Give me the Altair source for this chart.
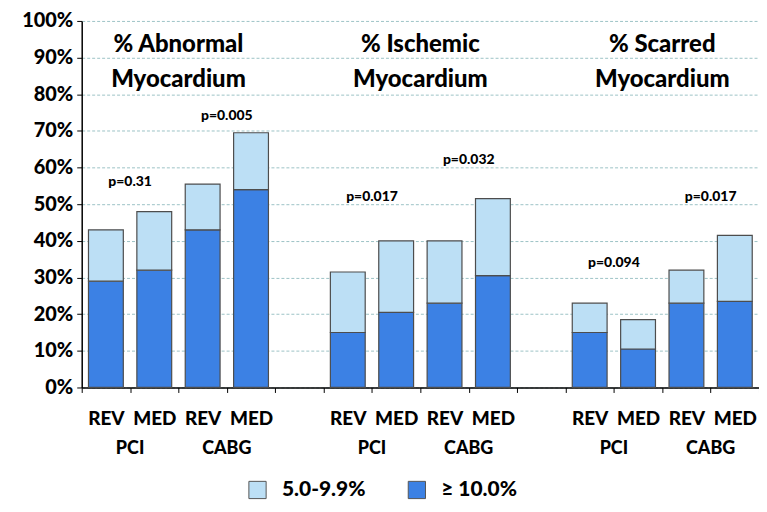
import altair as alt
import pandas as pd

# ---- data ----
groups = ["% Abnormal\nMyocardium", "% Ischemic\nMyocardium", "% Scarred\nMyocardium"]
arms = ["REV", "MED", "REV", "MED"]
procedures = ["PCI", "CABG"]
ge10 = [[29, 32, 43, 54], [15, 20.5, 23, 30.5], [15, 10.5, 23, 23.5]]
total = [[43, 48, 55.5, 69.5], [31.5, 40, 40, 51.5], [23, 18.5, 32, 41.5]]
p_labels = [["p=0.31", "p=0.005"], ["p=0.017", "p=0.032"], ["p=0.094", "p=0.017"]]
p_heights = [[56, 74], [52, 62], [34, 52]]
y_ticks = [0, 10, 20, 30, 40, 50, 60, 70, 80, 90, 100]
seg_names = ["5.0-9.9%", "≥ 10.0%"]
seg_colors = ["#bcdff5", "#3c81e4"]

FONT = "Lato"
W = 900

# ---- build tables ----
slots = []
bar_rows, p_rows, proc_rows, title_rows = [], [], [], []
for g in range(3):
    gslots = [f"{arms[i]}-{g}-{i}" for i in range(4)]
    slots += gslots
    if g < 2:
        slots.append(f"gap-{g}")
    for i in range(4):
        bar_rows.append({"slot": gslots[i], "segment": seg_names[1], "value": ge10[g][i], "ord": 0})
        bar_rows.append({"slot": gslots[i], "segment": seg_names[0],
                         "value": total[g][i] - ge10[g][i], "ord": 1})
    for k in range(2):
        p_rows.append({"slot": gslots[2 * k], "text": p_labels[g][k], "value": p_heights[g][k]})
        proc_rows.append({"slot": gslots[2 * k], "text": procedures[k]})
    title_rows.append({"slot": gslots[1], "text": groups[g]})

bars_df = pd.DataFrame(bar_rows)
p_df = pd.DataFrame(p_rows)
proc_df = pd.DataFrame(proc_rows)
title_df = pd.DataFrame(title_rows)

xscale = alt.Scale(domain=slots, paddingInner=0, paddingOuter=0)
yscale = alt.Scale(domain=[0, 100], nice=False)

x_axis = alt.Axis(labelExpr="indexof(datum.label,'gap')>=0 ? '' : slice(datum.label,0,3)",
                  labelAngle=0, labelFont=FONT, labelFontWeight=W, labelFontSize=19,
                  labelColor="black", labelPadding=17, tickBand="extent",
                  tickColor="black", tickSize=5, domainColor="black", domainWidth=1.5,
                  grid=False, title=None)
y_axis = alt.Axis(values=y_ticks, tickCount=11, labelExpr="datum.value + '%'",
                  labelFont=FONT, labelFontWeight=W, labelFontSize=20,
                  labelColor="black", labelPadding=4, tickColor="black", tickSize=5,
                  labelOverlap=False, labelFlush=False,
                  domainColor="black", domainWidth=1.5, title=None,
                  gridColor="#9cc3c6", gridDash=[3, 2], gridWidth=1)

bars = alt.Chart(bars_df).mark_bar(
    width=alt.RelativeBandSize(0.72), stroke="#4d4d4d", strokeWidth=1.2
).encode(
    x=alt.X("slot:N", scale=xscale, axis=x_axis),
    y=alt.Y("value:Q", stack="zero", scale=yscale, axis=y_axis),
    color=alt.Color("segment:N", scale=alt.Scale(domain=seg_names, range=seg_colors),
                    legend=alt.Legend(orient="none", legendX=166, legendY=460,
                                      direction="horizontal", title=None,
                                      labelFont=FONT, labelFontWeight=W, labelFontSize=21,
                                      labelColor="black", symbolType="square", symbolSize=300,
                                      symbolStrokeColor="#555555", symbolStrokeWidth=1,
                                      columnPadding=40, labelOffset=14)),
    order=alt.Order("ord:Q"),
)

ptext = alt.Chart(p_df).mark_text(
    font=FONT, fontWeight=W, fontSize=14, color="black", baseline="middle"
).encode(
    x=alt.X("slot:N", scale=xscale, bandPosition=1, axis=x_axis),
    y=alt.Y("value:Q", scale=yscale, axis=y_axis),
    text="text:N",
)

proc = alt.Chart(proc_df).mark_text(
    font=FONT, fontWeight=W, fontSize=18, color="black", baseline="middle"
).encode(
    x=alt.X("slot:N", scale=xscale, bandPosition=1, axis=x_axis),
    y=alt.value(430),
    text="text:N",
)

titles = alt.Chart(title_df).mark_text(
    font=FONT, fontWeight=W, fontSize=24, color="black", baseline="middle",
    lineBreak="\n", lineHeight=35
).encode(
    x=alt.X("slot:N", scale=xscale, bandPosition=1, axis=x_axis),
    y=alt.value(24),
    text="text:N",
)

chart = alt.layer(bars, ptext, proc, titles).properties(
    width=680, height=368,
    autosize=alt.AutoSizeParams(type="none"),
    padding={"left": 74, "top": 12, "right": 0, "bottom": 114},
    background="white",
).configure_view(stroke=None)

chart.save("out.html", embed_options={"renderer": "svg", "actions": False})
